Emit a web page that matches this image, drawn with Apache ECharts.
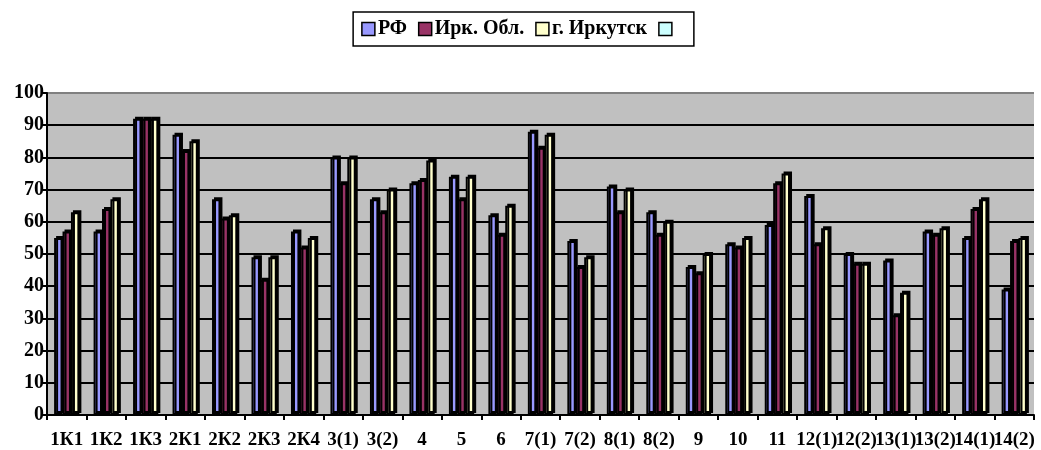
<!DOCTYPE html>
<html>
<head>
<meta charset="utf-8">
<script src="https://cdn.jsdelivr.net/npm/echarts@6/dist/echarts.min.js"></script>
<style>
  html, body { margin: 0; padding: 0; background: #fff; }
  #chart { width: 1041px; height: 450px; }
</style>
</head>
<body>
<div id="chart"></div>
<script>
const categories = ['1К1', '1К2', '1К3', '2К1', '2К2', '2К3', '2К4', '3(1)', '3(2)', '4', '5', '6', '7(1)', '7(2)',
  '8(1)', '8(2)', '9', '10', '11', '12(1)', '12(2)', '13(1)', '13(2)', '14(1)', '14(2)']
const rf = [55, 57, 92, 87, 67, 49, 57, 80, 67, 72, 74, 62, 88, 54, 71, 63, 46, 53, 59, 68, 50, 48, 57, 55, 39]
const irkObl = [57, 64, 92, 82, 61, 42, 52, 72, 63, 73, 67, 56, 83, 46, 63, 56, 44, 52, 72, 53, 47, 31, 56, 64, 54]
const irkutsk = [63, 67, 92, 85, 62, 49, 55, 80, 70, 79, 74, 65, 87, 49, 70, 60, 50, 55, 75, 58, 47, 38, 58, 67, 55]
const yTicks = [0, 10, 20, 30, 40, 50, 60, 70, 80, 90, 100]

const font = '"Liberation Serif", "Times New Roman", serif'

const barStyle = color => ({
  color: color,
  borderColor: '#000',
  borderWidth: 2,
  shadowColor: '#000',
  shadowBlur: 0,
  shadowOffsetX: 2,
  shadowOffsetY: -2
})

const chart = echarts.init(document.getElementById('chart'))
const option = {
  animation: false,
  textStyle: { fontFamily: font },
  legend: {
    top: 12,
    left: 'center',
    icon: 'rect',
    itemWidth: 13,
    itemHeight: 13,
    itemGap: 11,
    padding: [7, 14, 7, 8],
    backgroundColor: '#fff',
    borderColor: '#000',
    borderWidth: 1.5,
    borderRadius: 0,
    itemStyle: { borderColor: '#000', borderWidth: 1.5 },
    textStyle: { fontFamily: font, fontWeight: 'bold', fontSize: 20, color: '#000', padding: [0, 0, 0, -2] },
    data: ['РФ', 'Ирк. Обл.', 'г. Иркутск', ' ']
  },
  grid: {
    left: 47, right: 7, top: 93, bottom: 35,
    show: true,
    backgroundColor: '#C0C0C0',
    borderWidth: 0
  },
  xAxis: {
    type: 'category',
    data: categories,
    axisLine: { lineStyle: { color: '#000', width: 2 } },
    axisTick: { show: true, length: 5, lineStyle: { color: '#000', width: 2 } },
    axisLabel: { color: '#000', fontWeight: 'bold', fontSize: 19, fontFamily: font, margin: 16, interval: 0 }
  },
  yAxis: {
    type: 'value',
    min: 0,
    max: 100,
    interval: 10,
    axisLine: { show: true, lineStyle: { color: '#000', width: 2 } },
    axisTick: { show: true, length: 4, lineStyle: { color: '#000', width: 2 } },
    axisLabel: { color: '#000', fontWeight: 'bold', fontSize: 20, fontFamily: font, margin: 3 },
    splitLine: {
      lineStyle: {
        color: yTicks.map(v => (v === 100 ? '#808080' : '#000')),
        width: 2
      }
    }
  },
  series: [
    { name: 'РФ', type: 'bar', data: rf, barGap: '0%', barCategoryGap: '36%', itemStyle: barStyle('#9999FF') },
    { name: 'Ирк. Обл.', type: 'bar', data: irkObl, itemStyle: barStyle('#993366') },
    { name: 'г. Иркутск', type: 'bar', data: irkutsk, itemStyle: barStyle('#FFFFCC') },
    { name: ' ', type: 'line', data: [], itemStyle: { color: '#CCFFFF' } }
  ]
}
chart.setOption(option)
</script>
</body>
</html>
